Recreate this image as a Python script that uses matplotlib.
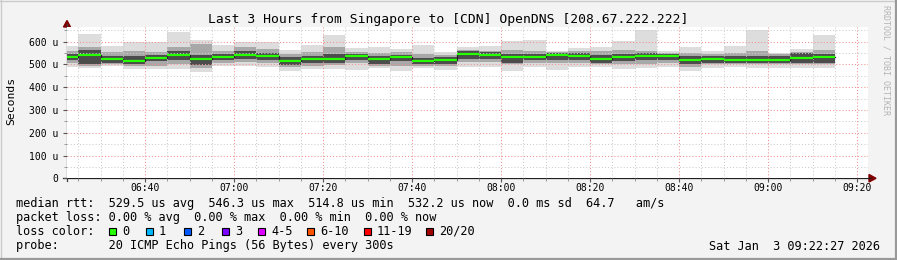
import numpy as np
import pandas as pd
import matplotlib
matplotlib.use('Agg')
import matplotlib.pyplot as plt
import matplotlib.dates as mdates
from matplotlib.patches import Rectangle, Polygon

# smokeping data, one value per 5 minute slot (microseconds)
slot_start = pd.date_range('2026-01-03 06:20', periods=35, freq='5min')
median = np.array([531, 543, 522, 515, 530, 542, 522, 534, 540, 536,
                   514.8, 522, 522, 536, 522, 531, 515, 518, 546.3, 543,
                   531, 534, 542, 536, 526, 534, 537, 536, 521, 526,
                   521, 521, 521, 527, 532.2])
ping_min = np.array([490, 483, 492, 480, 479, 482, 469, 492, 495, 487,
                     473, 480, 480, 477, 483, 473, 485, 476, 487, 487,
                     473, 487, 477, 487, 487, 480, 483, 487, 473, 485,
                     487, 483, 483, 485, 485])
ping_max = np.array([580, 634, 582, 600, 597, 641, 609, 587, 600, 600,
                     563, 587, 628, 571, 575, 568, 587, 556, 575, 580,
                     601, 609, 561, 571, 575, 601, 652, 561, 575, 561,
                     582, 651, 550, 568, 631])
mid_lo = np.array([505, 495, 500, 495, 495, 500, 485, 505, 510, 505,
                   490, 495, 498, 505, 495, 495, 495, 495, 510, 510,
                   500, 505, 505, 505, 500, 500, 500, 505, 490, 500,
                   500, 500, 500, 500, 500])
mid_hi = np.array([560, 575, 555, 560, 555, 575, 590, 560, 575, 570,
                   545, 555, 575, 555, 550, 555, 545, 540, 565, 560,
                   565, 560, 555, 560, 560, 565, 560, 550, 550, 545,
                   550, 560, 545, 555, 565])
core_lo = np.array([518, 503, 508, 503, 513, 518, 498, 518, 523, 518,
                    498, 508, 506, 518, 503, 513, 501, 503, 523, 523,
                    508, 518, 518, 518, 508, 513, 518, 518, 503, 508,
                    508, 506, 508, 508, 508])
core_hi = np.array([547, 562, 538, 535, 543, 557, 542, 547, 557, 550,
                    532, 538, 548, 547, 538, 543, 530, 533, 557, 555,
                    548, 548, 552, 550, 543, 548, 550, 547, 538, 538,
                    535, 538, 538, 552, 548])

y_ticks = [0, 100, 200, 300, 400, 500, 600]
y_labels = ['0', '100 u', '200 u', '300 u', '400 u', '500 u', '600 u']

loss_labels = ['0', '1', '2', '3', '4-5', '6-10', '11-19', '20/20']
loss_colors = ['#26ff00', '#00b8ff', '#0059ff', '#7e00ff', '#dd00ff',
               '#ff5500', '#ff0000', '#a10000']
loss_box_x = [108.5, 145.5, 184, 221.5, 258, 306.5, 363.5, 426]

title = 'Last 3 Hours from Singapore to [CDN] OpenDNS [208.67.222.222]'
legend_rows = [
    'median rtt:  529.5 us avg  546.3 us max  514.8 us min  532.2 us now  0.0 ms sd  64.7   am/s',
    'packet loss: 0.00 % avg  0.00 % max  0.00 % min  0.00 % now',
    'loss color:',
    'probe:       20 ICMP Echo Pings (56 Bytes) every 300s',
]
stamp = 'Sat Jan  3 09:22:27 2026'

plt.rcParams['font.family'] = 'DejaVu Sans Mono'
W, H = 897, 260
fig = plt.figure(figsize=(W / 100, H / 100), dpi=100, facecolor='#f3f3f3')

# background layer in pixel coordinates for frame, texts, axis arrows
bg = fig.add_axes([0, 0, 1, 1], zorder=0)
bg.set_xlim(0, W)
bg.set_ylim(H, 0)
bg.axis('off')

left, right, top, bottom = 67, 868, 27, 178.3
ax = fig.add_axes([left / W, (H - bottom) / H, (right - left) / W, (bottom - top) / H],
                  zorder=1)
ax.set_facecolor('white')
for s in ax.spines.values():
    s.set_visible(False)

t0 = mdates.date2num(pd.Timestamp('2026-01-03 06:22:27').to_pydatetime())
t1 = mdates.date2num(pd.Timestamp('2026-01-03 09:22:27').to_pydatetime())
x = mdates.date2num(slot_start.to_pydatetime())
w = 5 / 1440.0

# smoke
ax.bar(x, ping_max - ping_min, bottom=ping_min, width=w, align='edge',
       color='#dddddd', lw=0, zorder=1)
ax.bar(x, mid_hi - mid_lo, bottom=mid_lo, width=w, align='edge',
       color='#a8a8a8', lw=0, zorder=1)
ax.bar(x, core_hi - core_lo, bottom=core_lo, width=w, align='edge',
       color='#4c4c4c', lw=0, zorder=1)

ax.set_xlim(t0, t1)
ax.set_ylim(0, 664.5)

ax.xaxis.set_major_locator(mdates.MinuteLocator(byminute=[0, 20, 40]))
ax.xaxis.set_minor_locator(mdates.MinuteLocator(byminute=range(0, 60, 5)))
ax.xaxis.set_major_formatter(mdates.DateFormatter('%H:%M'))
ax.set_yticks(y_ticks)
ax.set_yticklabels(y_labels)
ax.set_yticks(np.arange(50, 660, 100), minor=True)

# dotted grid above the smoke
dots = (0, (1, 2))
for v in ax.xaxis.get_minorticklocs():
    ax.axvline(v, color='#cccccc', lw=0.75, ls=dots, zorder=2)
for v in ax.yaxis.get_minorticklocs():
    ax.axhline(v, color='#cccccc', lw=0.75, ls=dots, zorder=2)
for v in ax.get_xticks():
    ax.axvline(v, color='#f09090', lw=0.75, ls=dots, zorder=2)
for v in y_ticks[1:]:
    ax.axhline(v, color='#f09090', lw=0.75, ls=dots, zorder=2)

# median: black step with loss colour bar
ax.step(np.r_[x, x[-1] + w], np.r_[median, median[-1]], where='post',
        color='#202020', lw=0.9, zorder=3)
ax.hlines(median, x, x + w, color=loss_colors[0], lw=1.6, zorder=4,
          capstyle='butt')

ax.tick_params(axis='both', which='major', length=3, width=0.8, color='#555555',
               labelsize=7, pad=3)
ax.tick_params(axis='both', which='minor', length=2, width=0.6, color='#888888')
ax.tick_params(axis='x', pad=0.5)

# axes lines and arrows
bg.plot([67, 67], [bottom + 2.5, 24], color='#404040', lw=0.9)
bg.plot([63, 870], [bottom, bottom], color='#202020', lw=0.9)
bg.add_patch(Polygon([(63.5, 27), (70.5, 27), (67, 20.5)], color='#7f0000'))
bg.add_patch(Polygon([(869, 174.5), (869, 182), (876, 178.3)], color='#7f0000'))

# frame
bg.plot([0, W], [0.5, 0.5], color='#cbcbcb', lw=1)
bg.plot([0.5, 0.5], [0, H], color='#cbcbcb', lw=1)
bg.plot([0, W], [H - 1, H - 1], color='#999999', lw=1.6)
bg.plot([W - 1, W - 1], [0, H], color='#999999', lw=1.6)

bg.text(448, 19, title, ha='center', va='center', fontsize=9.4, color='black')
bg.text(11, 101, 'Seconds', rotation=90, ha='center', va='center', fontsize=8.2)
bg.text(886, 60, 'RRDTOOL / TOBI OETIKER', rotation=270, ha='center', va='center',
        fontsize=6, color='#b4b4b4')

row_y = [204, 218, 231.5, 246]
for txt, yy in zip(legend_rows, row_y):
    bg.text(16, yy, txt, ha='left', va='center', fontsize=8.55)
for bx, c, lab in zip(loss_box_x, loss_colors, loss_labels):
    bg.add_patch(Rectangle((bx, 227.5), 7, 7, facecolor=c, edgecolor='black', lw=0.8))
    bg.text(bx + 13.5, 231.5, lab, ha='left', va='center', fontsize=8.55)
bg.text(880, 246, stamp, ha='right', va='center', fontsize=8.55)

fig.savefig('out.png', dpi=100, facecolor=fig.get_facecolor())
